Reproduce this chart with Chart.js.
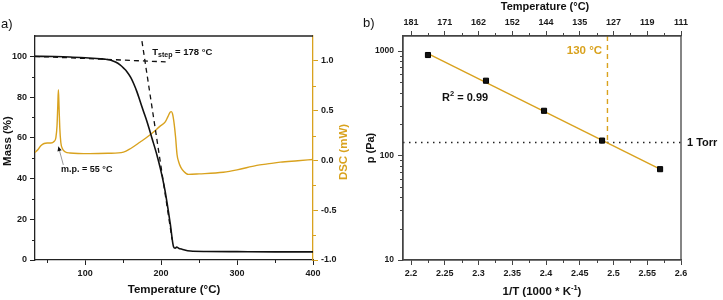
<!DOCTYPE html>
<html><head><meta charset="utf-8">
<script src="https://cdn.jsdelivr.net/npm/chart.js@4/dist/chart.umd.min.js"></script>
<style>
html,body{margin:0;padding:0;background:#fff;}
#wrap{position:relative;width:723px;height:300px;overflow:hidden;background:#fff;}
#a{position:absolute;left:0;top:0;}
#b{position:absolute;left:360px;top:0;}
</style></head><body>
<div id="wrap">
<canvas id="a" width="360" height="300"></canvas>
<canvas id="b" width="363" height="300"></canvas>
</div>
<script>
const ORANGE = '#D9A21E';
const FONT = '"Liberation Sans", Arial, sans-serif';

// ---------- Panel a data ----------
const tgaTemp = [34,60,80,100,120,127,133,140,146,151,155,160,163.7,168,172.5,177,181.4,188,194.5,199,205,212,216.4,218.5,220.5,223,227.5,238.5,260,300,350,400];
const tgaMass = [100,99.9,99.7,99.3,98.8,98.6,98.2,97.2,95.8,94.1,92.5,89.7,86.8,82.8,77.8,72.8,68,59.8,51.6,45,34.4,18,6.5,5.8,6.3,5.8,5.3,4.4,4.2,4.1,4.0,4.0];
const dscTemp = [34,38,42,46,50,55,59,61.5,63,64,64.8,65.6,66.6,68,70,74,80,106,130,150.5,160,172.5,180,190,198,205.5,209,212,213.5,215,217,219,221,223,226,230,236,250,282,300,326,340,357,380,400];
const dscSignal = [0.08,0.11,0.15,0.17,0.175,0.175,0.19,0.23,0.35,0.55,0.71,0.55,0.33,0.18,0.12,0.085,0.075,0.068,0.072,0.084,0.12,0.185,0.225,0.286,0.34,0.387,0.44,0.485,0.49,0.47,0.38,0.24,0.06,-0.01,-0.07,-0.11,-0.14,-0.135,-0.118,-0.095,-0.05,-0.035,-0.017,-0.003,0.01];
const flatTanTemp = [34, 206];
const flatTanMass = [100, 97.3];
const steepTanTemp = [174.8, 214.5];
const steepTanMass = [107.5, 10];
const tempTicksA = [100, 200, 300, 400];
const massTicks = [0, 20, 40, 60, 80, 100];
const dscTicks = [-1.0, -0.5, 0.0, 0.5, 1.0];

// ---------- Panel b data ----------
const invT = [2.225, 2.311, 2.397, 2.483, 2.569];
const pressure = [916, 520, 268, 139, 74];
const fitInvT = [2.225, 2.569];
const fitP = [945, 74];
const invTTicks = [2.2, 2.25, 2.3, 2.35, 2.4, 2.45, 2.5, 2.55, 2.6];
const topTempLabels = ['181','171','162','152','144','135','127','119','111'];
const pTicks = [10, 100, 1000];
const torrPa = 133.3;
const invT130 = 2.491;

const pts = (xs, ys) => xs.map((x, i) => ({x, y: ys[i]}));

function minorPlugin(spec) {
  return { id: 'minor', afterDraw(chart) {
    const ctx = chart.ctx; ctx.save(); ctx.lineWidth = 1;
    for (const id in spec) {
      const s = chart.scales[id]; const {values, len, color} = spec[id];
      ctx.strokeStyle = color;
      values.forEach(v => {
        const p = Math.round(s.getPixelForValue(v)) + 0.5;
        ctx.beginPath();
        if (s.isHorizontal()) {
          const top = s.position === 'top';
          const y0 = top ? s.bottom : s.top;
          ctx.moveTo(p, y0); ctx.lineTo(p, y0 + (top ? -len : len));
        } else {
          const left = s.position === 'left';
          const x0 = left ? s.right : s.left;
          ctx.moveTo(x0, p); ctx.lineTo(x0 + (left ? -len : len), p);
        }
        ctx.stroke();
      });
    }
    ctx.restore();
  }};
}

function axisOpts(color, tickValues, fitFn, extra) {
  return Object.assign({
    type: 'linear',
    afterBuildTicks: s => { s.ticks = tickValues.map(v => ({value: v})); },
    afterFit: fitFn,
    grid: {display: true, drawOnChartArea: false, drawTicks: true, tickLength: 5, color: color, lineWidth: 1},
    border: {display: true, color: color, width: 1.3},
    ticks: {font: {family: FONT, size: 9, weight: 'bold'}, color: '#1a1a1a', padding: 3, maxRotation: 0, autoSkip: false},
    title: {display: false}
  }, extra);
}

// ---------- Panel a ----------
const annA = { id: 'annA', afterDraw(chart) {
  const ctx = chart.ctx, ca = chart.chartArea, x = chart.scales.x, y = chart.scales.y;
  ctx.save();
  ctx.strokeStyle = '#222'; ctx.lineWidth = 1.3;
  ctx.beginPath(); ctx.moveTo(ca.left, ca.top); ctx.lineTo(ca.right, ca.top); ctx.stroke();
  ctx.fillStyle = '#111'; ctx.textBaseline = 'middle'; ctx.textAlign = 'center';
  ctx.font = 'bold 11.5px ' + FONT;
  ctx.fillText('Temperature (°C)', (ca.left + ca.right) / 2, 290);
  ctx.save(); ctx.translate(8, 141); ctx.rotate(-Math.PI / 2); ctx.fillText('Mass (%)', 0, 0); ctx.restore();
  ctx.fillStyle = ORANGE;
  ctx.save(); ctx.translate(344, 152); ctx.rotate(-Math.PI / 2); ctx.fillText('DSC (mW)', 0, 0); ctx.restore();
  ctx.fillStyle = '#111';
  ctx.font = '13px ' + FONT; ctx.textAlign = 'left';
  ctx.fillText('a)', 1, 24);
  // T_step annotation
  let tx = x.getPixelForValue(188.4), ty = y.getPixelForValue(102);
  ctx.font = 'bold 9.5px ' + FONT;
  ctx.fillText('T', tx, ty); tx += ctx.measureText('T').width;
  ctx.font = 'bold 7px ' + FONT;
  ctx.fillText('step', tx, ty + 3); tx += ctx.measureText('step').width;
  ctx.font = 'bold 9.5px ' + FONT;
  ctx.fillText(' = 178 °C', tx, ty);
  // m.p. annotation
  ctx.font = 'bold 9px ' + FONT;
  ctx.fillText('m.p. = 55 °C', x.getPixelForValue(68.3), y.getPixelForValue(44.2));
  // arrow
  const ax0 = x.getPixelForValue(71.3), ay0 = y.getPixelForValue(46.7);
  const ax1 = x.getPixelForValue(64.8), ay1 = y.getPixelForValue(55.7);
  ctx.strokeStyle = '#999'; ctx.lineWidth = 1;
  ctx.beginPath(); ctx.moveTo(ax0, ay0); ctx.lineTo(ax1, ay1); ctx.stroke();
  const ang = Math.atan2(ay1 - ay0, ax1 - ax0);
  ctx.fillStyle = '#111';
  ctx.beginPath(); ctx.moveTo(ax1, ay1);
  ctx.lineTo(ax1 - 5 * Math.cos(ang - 0.45), ay1 - 5 * Math.sin(ang - 0.45));
  ctx.lineTo(ax1 - 5 * Math.cos(ang + 0.45), ay1 - 5 * Math.sin(ang + 0.45));
  ctx.closePath(); ctx.fill();
  ctx.restore();
}};

new Chart(document.getElementById('a'), {
  type: 'line',
  data: { datasets: [
    {data: pts(tgaTemp, tgaMass), borderColor: '#111', borderWidth: 1.6, pointRadius: 0, cubicInterpolationMode: 'monotone', yAxisID: 'y'},
    {data: pts(flatTanTemp, flatTanMass), borderColor: '#111', borderWidth: 1.3, borderDash: [5, 4], pointRadius: 0, yAxisID: 'y'},
    {data: pts(steepTanTemp, steepTanMass), borderColor: '#111', borderWidth: 1.3, borderDash: [5, 4], pointRadius: 0, yAxisID: 'y'},
    {data: pts(dscTemp, dscSignal), borderColor: ORANGE, borderWidth: 1.4, pointRadius: 0, cubicInterpolationMode: 'monotone', yAxisID: 'y1'}
  ]},
  options: {
    responsive: false, animation: false, parsing: true,
    layout: {padding: {top: 36, left: 0, right: 0, bottom: 0}},
    plugins: {legend: {display: false}, tooltip: {enabled: false}},
    scales: {
      x: axisOpts('#222', tempTicksA, s => { s.height = 40; }, {min: 34, max: 400, position: 'bottom'}),
      y: axisOpts('#222', massTicks, s => { s.width = 35; }, {min: 0, max: 110, position: 'left'}),
      y1: axisOpts(ORANGE, dscTicks, s => { s.width = 47; }, {min: -1, max: 1.25, position: 'right',
        ticks: {font: {family: FONT, size: 9, weight: 'bold'}, color: '#1a1a1a', padding: 3, autoSkip: false,
          callback: v => Number(v).toFixed(1)}})
    }
  },
  plugins: [annA, minorPlugin({
    x: {values: [50, 150, 250, 350], len: 3, color: '#222'},
    y: {values: [10, 30, 50, 70, 90], len: 3, color: '#222'},
    y1: {values: [-0.75, -0.25, 0.25, 0.75], len: 3, color: ORANGE}
  })]
});

// ---------- Panel b ----------
const annB = { id: 'annB', afterDraw(chart) {
  const ctx = chart.ctx, ca = chart.chartArea, x = chart.scales.x, y = chart.scales.y;
  ctx.save();
  ctx.strokeStyle = '#444'; ctx.lineWidth = 1.3;
  ctx.strokeRect(ca.left, ca.top, ca.right - ca.left, ca.bottom - ca.top);
  ctx.fillStyle = '#111'; ctx.textBaseline = 'middle'; ctx.textAlign = 'center';
  ctx.font = 'bold 11px ' + FONT;
  ctx.fillText('Temperature (°C)', 185, 7);
  ctx.save(); ctx.translate(11, 148); ctx.rotate(-Math.PI / 2); ctx.fillText('p (Pa)', 0, 0); ctx.restore();
  // bottom title with superscript
  const p1 = '1/T (1000 * K', sup = '-1', p3 = ')';
  ctx.font = 'bold 11.5px ' + FONT; const w1 = ctx.measureText(p1).width, w3 = ctx.measureText(p3).width;
  ctx.font = 'bold 7.5px ' + FONT; const w2 = ctx.measureText(sup).width;
  let bx = 182 - (w1 + w2 + w3) / 2; ctx.textAlign = 'left';
  ctx.font = 'bold 11.5px ' + FONT; ctx.fillText(p1, bx, 292); bx += w1;
  ctx.font = 'bold 7.5px ' + FONT; ctx.fillText(sup, bx, 288); bx += w2;
  ctx.font = 'bold 11.5px ' + FONT; ctx.fillText(p3, bx, 292);
  ctx.font = '13px ' + FONT; ctx.fillText('b)', 3, 23);
  // R^2
  let rx = x.getPixelForValue(2.2459), ry = y.getPixelForValue(355);
  ctx.font = 'bold 11px ' + FONT; ctx.fillText('R', rx, ry); rx += ctx.measureText('R').width;
  ctx.font = 'bold 7.5px ' + FONT; ctx.fillText('2', rx, ry - 4); rx += ctx.measureText('2').width;
  ctx.font = 'bold 11px ' + FONT; ctx.fillText(' = 0.99', rx, ry);
  // 130 °C
  ctx.fillStyle = ORANGE; ctx.textAlign = 'right'; ctx.font = 'bold 11.5px ' + FONT;
  ctx.fillText('130 °C', x.getPixelForValue(2.483), y.getPixelForValue(1000));
  // 1 Torr
  ctx.fillStyle = '#111'; ctx.textAlign = 'left'; ctx.font = 'bold 11px ' + FONT;
  ctx.fillText('1 Torr', ca.right + 6, y.getPixelForValue(torrPa));
  ctx.restore();
}};

new Chart(document.getElementById('b'), {
  type: 'scatter',
  data: { datasets: [
    {data: pts(invT, pressure), showLine: false, pointStyle: 'rect', pointRadius: 3.6, backgroundColor: '#111', borderColor: '#000', borderWidth: 1},
    {data: pts(fitInvT, fitP), showLine: true, borderColor: ORANGE, borderWidth: 1.4, pointRadius: 0},
    {data: pts([invT130, invT130], [1393, torrPa]), showLine: true, borderColor: ORANGE, borderWidth: 1.4, borderDash: [5, 4], pointRadius: 0},
    {data: pts([2.188, 2.6], [torrPa, torrPa]), showLine: true, borderColor: '#222', borderWidth: 1.3, borderDash: [1.5, 4.5], pointRadius: 0}
  ]},
  options: {
    responsive: false, animation: false,
    layout: {padding: {top: 0, left: 0, right: 42, bottom: 0}},
    plugins: {legend: {display: false}, tooltip: {enabled: false}},
    scales: {
      x: axisOpts('#444', invTTicks, s => { s.height = 40; }, {min: 2.188, max: 2.6, position: 'bottom',
        ticks: {font: {family: FONT, size: 9, weight: 'bold'}, color: '#1a1a1a', padding: 3, autoSkip: false, maxRotation: 0,
          callback: v => String(Number(Number(v).toFixed(2)))}}),
      x2: axisOpts('#444', invTTicks, s => { s.height = 36; }, {min: 2.188, max: 2.6, position: 'top',
        ticks: {font: {family: FONT, size: 9, weight: 'bold'}, color: '#1a1a1a', padding: 3, autoSkip: false, maxRotation: 0,
          callback: (v, i) => topTempLabels[i]}}),
      y: axisOpts('#444', pTicks, s => { s.width = 43; }, {type: 'logarithmic', min: 10, max: 1393, position: 'left',
        ticks: {font: {family: FONT, size: 8.5, weight: 'bold'}, color: '#1a1a1a', padding: 4, autoSkip: false,
          callback: v => String(v)}})
    }
  },
  plugins: [annB, minorPlugin({
    x: {values: [2.225, 2.275, 2.325, 2.375, 2.425, 2.475, 2.525, 2.575], len: 3, color: '#444'},
    x2: {values: [2.225, 2.275, 2.325, 2.375, 2.425, 2.475, 2.525, 2.575], len: 3, color: '#444'},
    y: {values: [20, 30, 40, 50, 60, 70, 80, 90, 200, 300, 400, 500, 600, 700, 800, 900], len: 3, color: '#444'}
  })]
});
</script>
</body></html>
